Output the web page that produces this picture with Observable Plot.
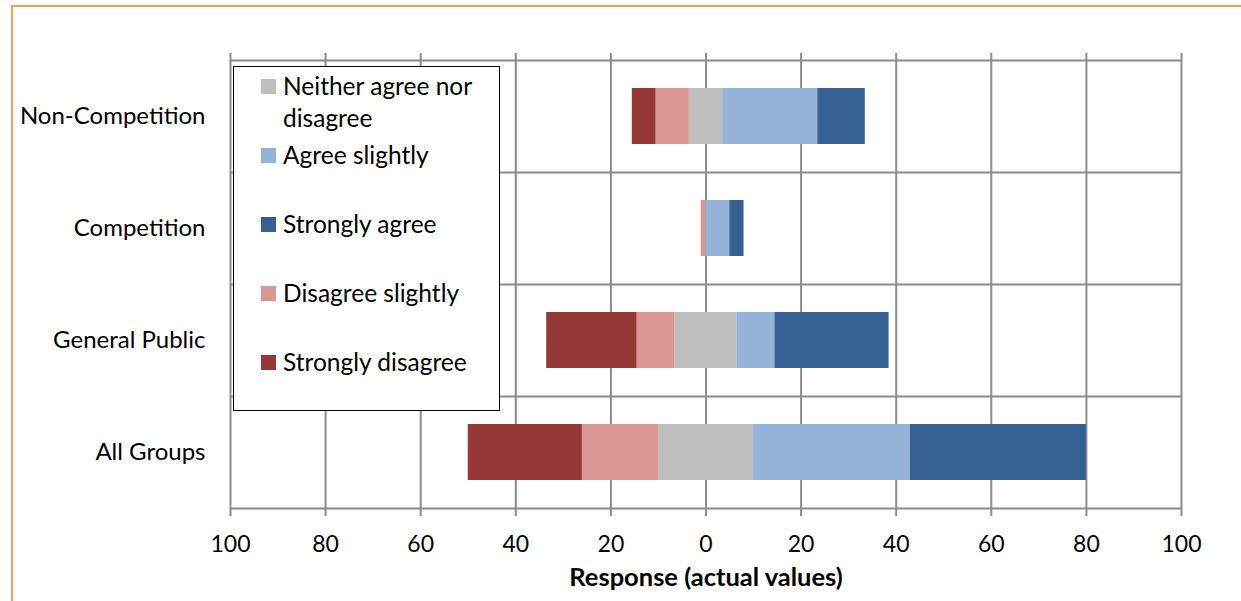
<!DOCTYPE html>
<html>
<head>
<meta charset="utf-8">
<script src="https://cdn.jsdelivr.net/npm/d3@7"></script>
<script src="https://cdn.jsdelivr.net/npm/@observablehq/plot@0.6"></script>
<style>
  html, body { margin: 0; padding: 0; background: #fff; overflow: hidden; }
  #wrap { position: relative; width: 1241px; height: 601px; font-family: Lato, sans-serif; }
  #wrap svg { position: absolute; left: 0; top: 0; }
  #border { position: absolute; left: 11px; top: 5px; width: 1300px; height: 700px;
            border-top: 2px solid #F9A057; border-left: 2px solid #F9A057; pointer-events: none; }
  #legend { position: absolute; left: 233px; top: 66px; width: 265px; height: 343px;
            border: 1.5px solid #000; background: #fff; }
  .item { position: absolute; left: 0; width: 265px; }
  .sw { position: absolute; left: 27px; width: 15px; height: 15px; }
  .lab { position: absolute; left: 49px; font-size: 24.5px; line-height: 32px; color: #000; white-space: nowrap; }
</style>
</head>
<body>
<div id="wrap">
  <div id="border"></div>
</div>
<script>
const categories = ["Non-Competition", "Competition", "General Public", "All Groups"];
const stronglyDisagree = [5, 0, 19, 24];
const disagreeSlightly = [7, 1, 8, 16];
const neither = [7, 0, 13, 20];
const agreeSlightly = [20, 5, 8, 33];
const stronglyAgree = [10, 3, 24, 37];
const xTicks = [-100, -80, -60, -40, -20, 0, 20, 40, 60, 80, 100];

const seriesNames = ["Strongly disagree", "Disagree slightly", "Neither agree nor disagree", "Agree slightly", "Strongly agree"];
const seriesColors = ["#953735", "#D99694", "#BFBFBF", "#95B3D7", "#366092"];
const legendOrder = ["Neither agree nor disagree", "Agree slightly", "Strongly agree", "Disagree slightly", "Strongly disagree"];

// build diverging segments
const segs = [];
categories.forEach((c, i) => {
  const h = neither[i] / 2;
  segs.push({cat: c, s: seriesNames[2], x1: -h, x2: h});
  segs.push({cat: c, s: seriesNames[1], x1: -h - disagreeSlightly[i], x2: -h});
  segs.push({cat: c, s: seriesNames[0], x1: -h - disagreeSlightly[i] - stronglyDisagree[i], x2: -h - disagreeSlightly[i]});
  segs.push({cat: c, s: seriesNames[3], x1: h, x2: h + agreeSlightly[i]});
  segs.push({cat: c, s: seriesNames[4], x1: h + agreeSlightly[i], x2: h + agreeSlightly[i] + stronglyAgree[i]});
});

const grid = "#8c8c8c";
const chart = Plot.plot({
  width: 1241,
  height: 601,
  marginLeft: 230,
  marginRight: 60,
  marginTop: 60,
  marginBottom: 93,
  style: {fontFamily: "Lato, sans-serif", fontSize: "23px", color: "#000", background: "transparent"},
  x: {domain: [-100, 100]},
  y: {domain: categories, paddingInner: 0.5, paddingOuter: 0.25},
  color: {domain: seriesNames, range: seriesColors},
  marks: [
    Plot.gridX(xTicks, {stroke: grid, strokeOpacity: 1, strokeWidth: 2}),
    Plot.ruleY(categories, {y: d => d, dy: -56, stroke: grid, strokeWidth: 2}),
    Plot.ruleY([categories[categories.length - 1]], {y: d => d, dy: 56, stroke: grid, strokeWidth: 2}),
    Plot.barX(segs, {y: "cat", x1: "x1", x2: "x2", fill: "s"}),
    Plot.axisX(xTicks, {anchor: "bottom", tickSize: 8, tickPadding: 19, stroke: grid, strokeWidth: 2,
      tickFormat: d => Math.abs(d), fontSize: 23, label: null}),
    Plot.axisX(xTicks, {anchor: "top", tickSize: 8, stroke: grid, strokeWidth: 2, tickFormat: () => "", label: null}),
    Plot.axisY({tickSize: 0, tickPadding: 25, fontSize: 24, label: null}),
    Plot.text(["Response (actual values)"], {frameAnchor: "bottom", dy: 77, fontWeight: "bold", fontSize: 25.5, fill: "#000"})
  ]
});
const wrap = document.getElementById("wrap");
wrap.insertBefore(chart, wrap.firstChild);

// legend
const legend = document.createElement("div");
legend.id = "legend";
legendOrder.forEach((name, k) => {
  const color = seriesColors[seriesNames.indexOf(name)];
  const item = document.createElement("div");
  item.className = "item";
  const centerY = 19 + k * 69;
  item.style.top = "0px";
  const sw = document.createElement("div");
  sw.className = "sw";
  sw.style.background = color;
  sw.style.top = (centerY - 7.5) + "px";
  const lab = document.createElement("div");
  lab.className = "lab";
  lab.style.top = (centerY - 16) + "px";
  if (name === "Neither agree nor disagree") {
    lab.innerHTML = "Neither agree nor<br>disagree";
  } else {
    lab.textContent = name;
  }
  item.appendChild(sw);
  item.appendChild(lab);
  legend.appendChild(item);
});
wrap.appendChild(legend);
</script>
</body>
</html>
